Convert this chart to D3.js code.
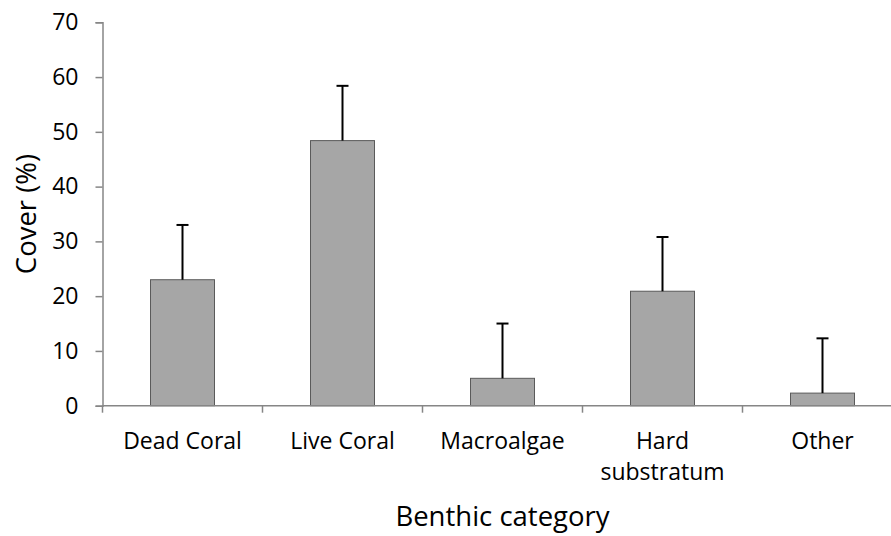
<!DOCTYPE html>
<html>
<head>
<meta charset="utf-8">
<script src="https://cdn.jsdelivr.net/npm/d3@7"></script>
<style>
  body { margin: 0; background: #fff; }
  text { font-family: "Open Sans", sans-serif; fill: #000; }
</style>
</head>
<body>
<div id="chart"></div>
<script>
var svgWidth = 891;
var svgHeight = 536;

// data
var categories = ["Dead Coral", "Live Coral", "Macroalgae", "Hard substratum", "Other"];
var labelLines = [["Dead Coral"], ["Live Coral"], ["Macroalgae"], ["Hard", "substratum"], ["Other"]];
var cover = [23.0, 48.4, 5.0, 20.9, 2.3];
var errors = [10.0, 10.0, 10.0, 9.9, 10.0];
var yTicks = [0, 10, 20, 30, 40, 50, 60, 70];

var margin = { top: 22.3, right: -11.5, bottom: 130.3, left: 102.5 };
var width = svgWidth - margin.left - margin.right;
var height = svgHeight - margin.top - margin.bottom;

var svg = d3.select("#chart")
  .append("svg")
  .attr("width", svgWidth)
  .attr("height", svgHeight);

var chartGroup = svg.append("g")
  .attr("transform", `translate(${margin.left}, ${margin.top})`);

var xBand = d3.scaleBand()
  .domain(categories)
  .range([0, width])
  .padding(0);

var yLinear = d3.scaleLinear()
  .domain([0, 70])
  .range([height, 0]);

var barWidth = xBand.bandwidth() * 0.4;

// y axis
var leftAxis = d3.axisLeft(yLinear)
  .tickValues(yTicks)
  .tickSize(7)
  .tickPadding(17);

var yAxis = chartGroup.append("g")
  .call(leftAxis);
yAxis.select(".domain").attr("stroke", "#868686").attr("stroke-width", 1.5);
yAxis.selectAll(".tick line").attr("stroke", "#868686").attr("stroke-width", 1.5);
yAxis.selectAll(".tick text")
  .attr("font-size", "23px")
  .attr("font-family", "Open Sans")
  .attr("fill", "#000");

// bars
chartGroup.selectAll("rect.bar")
  .data(categories)
  .enter()
  .append("rect")
  .attr("class", "bar")
  .attr("x", d => xBand(d) + (xBand.bandwidth() - barWidth) / 2)
  .attr("y", (d, i) => yLinear(cover[i]))
  .attr("width", barWidth)
  .attr("height", (d, i) => height - yLinear(cover[i]))
  .attr("fill", "#a6a6a6")
  .attr("stroke", "#5a5a5a")
  .attr("stroke-width", 1);

// error bars (upper only)
var errGroup = chartGroup.append("g");
errGroup.selectAll("line.err")
  .data(categories)
  .enter()
  .append("line")
  .attr("x1", d => xBand(d) + xBand.bandwidth() / 2)
  .attr("x2", d => xBand(d) + xBand.bandwidth() / 2)
  .attr("y1", (d, i) => yLinear(cover[i]))
  .attr("y2", (d, i) => yLinear(cover[i] + errors[i]))
  .attr("stroke", "#000")
  .attr("stroke-width", 2);

errGroup.selectAll("line.cap")
  .data(categories)
  .enter()
  .append("line")
  .attr("x1", d => xBand(d) + xBand.bandwidth() / 2 - 6)
  .attr("x2", d => xBand(d) + xBand.bandwidth() / 2 + 6)
  .attr("y1", (d, i) => yLinear(cover[i] + errors[i]))
  .attr("y2", (d, i) => yLinear(cover[i] + errors[i]))
  .attr("stroke", "#000")
  .attr("stroke-width", 2);

// x axis: line with ticks at band edges
var xAxis = chartGroup.append("g")
  .attr("transform", `translate(0, ${height})`);

xAxis.append("line")
  .attr("x1", 0)
  .attr("x2", width)
  .attr("y1", 0)
  .attr("y2", 0)
  .attr("stroke", "#868686")
  .attr("stroke-width", 1.5);

var edges = categories.map(d => xBand(d)).concat([width]);
xAxis.selectAll("line.tick")
  .data(edges)
  .enter()
  .append("line")
  .attr("x1", d => d)
  .attr("x2", d => d)
  .attr("y1", 0)
  .attr("y2", 7)
  .attr("stroke", "#868686")
  .attr("stroke-width", 1.5);

// category labels
var catLabels = xAxis.selectAll("text.cat")
  .data(categories)
  .enter()
  .append("text")
  .attr("class", "cat")
  .attr("text-anchor", "middle")
  .attr("font-size", "23px")
  .attr("transform", d => `translate(${xBand(d) + xBand.bandwidth() / 2}, 43)`);

catLabels.each(function(d, i) {
  var t = d3.select(this);
  labelLines[i].forEach(function(line, j) {
    t.append("tspan")
      .attr("x", 0)
      .attr("y", j * 31.5)
      .text(line);
  });
});

// axis titles
svg.append("text")
  .attr("x", margin.left + width / 2)
  .attr("y", 526)
  .attr("text-anchor", "middle")
  .attr("font-size", "27.5px")
  .text("Benthic category");

svg.append("text")
  .attr("transform", "translate(36, 214) rotate(-90)")
  .attr("text-anchor", "middle")
  .attr("font-size", "27.5px")
  .text("Cover (%)");
</script>
</body>
</html>
